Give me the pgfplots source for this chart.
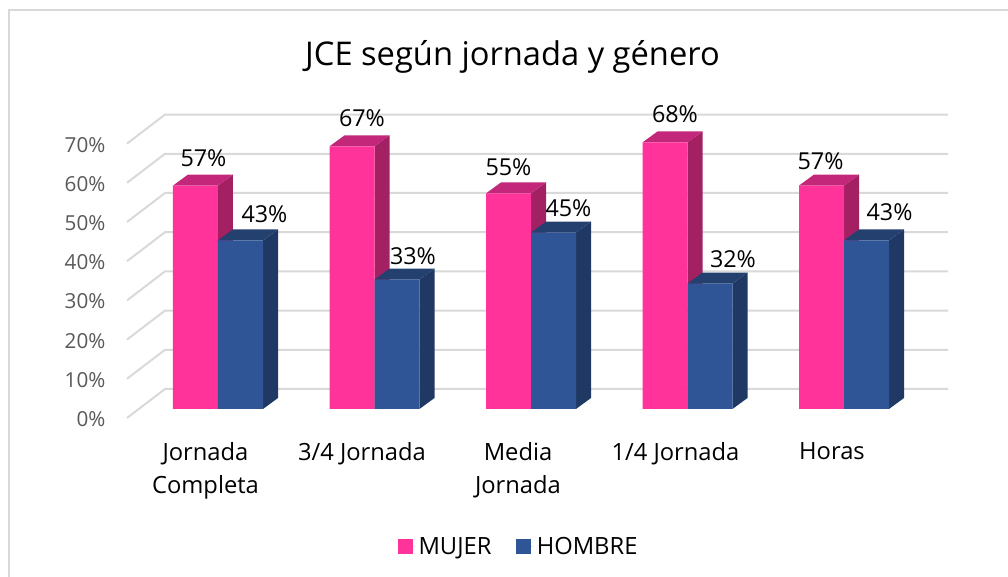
\documentclass[border=0pt]{standalone}
\usepackage{pgfplots}
\usepackage{fontspec}
\setmainfont{Open Sans}
\pgfplotsset{compat=1.18}
\definecolor{pinkF}{HTML}{FF3399}
\definecolor{pinkT}{HTML}{C2277A}
\definecolor{pinkS}{HTML}{A32063}
\definecolor{blueF}{HTML}{2F5597}
\definecolor{blueT}{HTML}{24406F}
\definecolor{blueS}{HTML}{1F3864}
\definecolor{gridc}{HTML}{D9D9D9}
\newcommand\face[2]{\addplot[fill=#1,draw=none,forget plot] coordinates {#2} --cycle;}
\newcommand\gline[1]{\addplot[gridc,line width=1.5pt,forget plot] coordinates {#1};}
\begin{document}
\begin{tikzpicture}
\useasboundingbox (0,0) rectangle (756pt,432.75pt);
\draw[gridc,line width=1.5pt] (7.1pt,0pt) -- (7.1pt,425.2pt) -- (756pt,425.2pt);
\begin{axis}[
  at={(95.25pt,119.25pt)},anchor=south west,
  scale only axis,width=615.75pt,height=227.25pt,
  xmin=127,xmax=948,ymin=-2.3,ymax=75,
  clip=false,
  axis line style={draw=none},
  major tick length=0pt,
  xtick={205.5,362,518,675.5,832},
  xticklabels={{Jornada\\Completa},{3/4 Jornada},{Media\\Jornada},{1/4 Jornada},{Horas}},
  xticklabel style={align=center,anchor=north,font=\fontsize{17.8}{24.75}\selectfont,yshift=-15pt,text=black},
  ytick={0,10,20,30,40,50,60,70},
  yticklabel={\pgfmathprintnumber[assume math mode=true]{\tick}\%},
  yticklabel style={anchor=east,font=\fontsize{15.5}{18}\selectfont,text=black!65,xshift=-12.7pt,yshift=-7.6pt},
  title={JCE según jornada y género},
  title style={at={(0.4695,1.165)},anchor=center,font=\fontsize{24.5}{28}\selectfont},
  legend style={at={(0.4775,-0.425)},anchor=center,draw=none,fill=none,font=\fontsize{17.8}{18}\selectfont,legend columns=2,/tikz/every even column/.append style={column sep=16.5pt}},
  legend image code/.code={\fill[#1] (0pt,-5.6pt) rectangle (11.25pt,5.6pt);\path (0pt,0pt) -- (13.5pt,0pt);},
]
% gridlines
\gline{(127,-2.3) (165,5.1) (948,5.1)}
\gline{(127,7.7) (165,15.1) (948,15.1)}
\gline{(127,17.7) (165,25.1) (948,25.1)}
\gline{(127,27.7) (165,35.1) (948,35.1)}
\gline{(127,37.7) (165,45.1) (948,45.1)}
\gline{(127,47.7) (165,55.1) (948,55.1)}
\gline{(127,57.7) (165,65.1) (948,65.1)}
\gline{(127,67.7) (165,75.1) (948,75.1)}
% MUJER depth faces
\face{pinkS}{(218,0) (233,2.8) (233,59.8) (218,57)}
\face{pinkT}{(173,57) (218,57) (233,59.8) (188,59.8)}
\face{pinkS}{(374.5,0) (389.5,2.8) (389.5,69.8) (374.5,67)}
\face{pinkT}{(329.5,67) (374.5,67) (389.5,69.8) (344.5,69.8)}
\face{pinkS}{(531,0) (546,2.8) (546,57.8) (531,55)}
\face{pinkT}{(486,55) (531,55) (546,57.8) (501,57.8)}
\face{pinkS}{(687.5,0) (702.5,2.8) (702.5,70.8) (687.5,68)}
\face{pinkT}{(642.5,68) (687.5,68) (702.5,70.8) (657.5,70.8)}
\face{pinkS}{(844,0) (859,2.8) (859,59.8) (844,57)}
\face{pinkT}{(799,57) (844,57) (859,59.8) (814,59.8)}
\addplot[ybar,bar width=33.75pt,bar shift=0pt,fill=pinkF,draw=none] coordinates {(195.5,57) (352,67) (508.5,55) (665,68) (821.5,57)};
\addlegendentry{MUJER}
% HOMBRE depth faces
\face{blueS}{(263,0) (278,2.8) (278,45.8) (263,43)}
\face{blueT}{(218,43) (263,43) (278,45.8) (233,45.8)}
\face{blueS}{(419.5,0) (434.5,2.8) (434.5,35.8) (419.5,33)}
\face{blueT}{(374.5,33) (419.5,33) (434.5,35.8) (389.5,35.8)}
\face{blueS}{(576,0) (591,2.8) (591,47.8) (576,45)}
\face{blueT}{(531,45) (576,45) (591,47.8) (546,47.8)}
\face{blueS}{(732.5,0) (747.5,2.8) (747.5,34.8) (732.5,32)}
\face{blueT}{(687.5,32) (732.5,32) (747.5,34.8) (702.5,34.8)}
\face{blueS}{(889,0) (904,2.8) (904,45.8) (889,43)}
\face{blueT}{(844,43) (889,43) (904,45.8) (859,45.8)}
\addplot[ybar,bar width=33.75pt,bar shift=0pt,fill=blueF,draw=none] coordinates {(240.5,43) (397,33) (553.5,45) (710,32) (866.5,43)};
\addlegendentry{HOMBRE}
% data labels
\addplot[draw=none,mark=none,forget plot,
  point meta=y,
  visualization depends on={value \thisrow{dx} \as \ddx},
  visualization depends on={value \thisrow{dy} \as \ddy},
  nodes near coords={\pgfmathprintnumber[assume math mode=true]{\pgfplotspointmeta}\%},
  every node near coord/.append style={anchor=center,inner sep=0pt,text=black,font=\fontsize{17.5}{18}\selectfont,xshift=\ddx*0.75pt,yshift=\ddy*0.75pt},
] table {
x y dx dy
195.5 57 8 27
240.5 43 24 26
352 67 10 28
397 33 16 23
508.5 55 0 26
553.5 45 15 24
665 68 10 28
710 32 23 24
821.5 57 -1 24
866.5 43 23 28
};
\end{axis}
\end{tikzpicture}
\end{document}
